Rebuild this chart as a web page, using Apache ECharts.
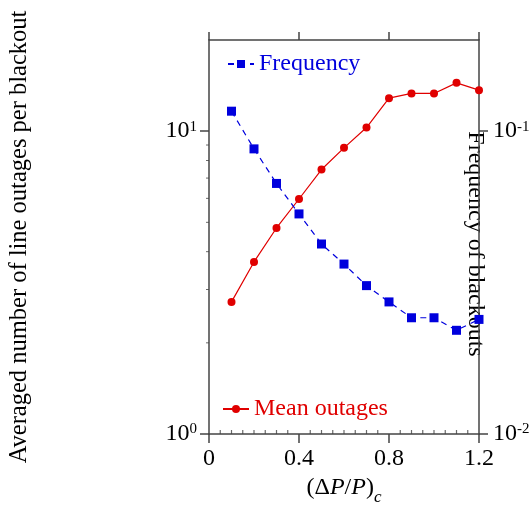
<!DOCTYPE html>
<html>
<head>
<meta charset="utf-8">
<script src="https://cdn.jsdelivr.net/npm/echarts@6/dist/echarts.min.js"></script>
<style>
  html, body { margin: 0; padding: 0; background: #fff; }
</style>
</head>
<body>
<div id="chart" style="width: 532px; height: 515px;"></div>
<script>
// data
const xValues = [0.1, 0.2, 0.3, 0.4, 0.5, 0.6, 0.7, 0.8, 0.9, 1.0, 1.1, 1.2]
const meanOutages = [2.73, 3.70, 4.79, 5.97, 7.47, 8.81, 10.28, 12.85, 13.32, 13.32, 14.44, 13.66]
const frequency = [0.1164, 0.0874, 0.0672, 0.0533, 0.0424, 0.0364, 0.0309, 0.0273, 0.0242, 0.0242, 0.0220, 0.0239]
const leftTicks = [1, 10]
const leftTickLabels = ['10{sup|0}', '10{sup|1}']
const rightTicks = [0.01, 0.1]
const rightTickLabels = ['10{sup|-2}', '10{sup|-1}']
const leftMinorTicks = [2, 3, 4, 5, 6, 7, 8, 9]
const bottomMinorTicks = [0.05, 0.1, 0.15, 0.2, 0.25, 0.3, 0.35, 0.45, 0.5, 0.55, 0.6, 0.65, 0.7, 0.75,
  0.85, 0.9, 0.95, 1.0, 1.05, 1.1, 1.15]

const font = 'Liberation Serif'
const axisColor = '#444'
const red = '#e00000'
const blue = '#0000dd'

const pair = (xs, ys) => xs.map((x, i) => [x, ys[i]])

const supRich = {
  b: { fontFamily: font, fontSize: 24, lineHeight: 24, verticalAlign: 'bottom', color: '#000' },
  sup: { fontFamily: font, fontSize: 15, lineHeight: 15, verticalAlign: 'top', padding: [0, 0, 14, 0], color: '#000' }
}

function logLabel(ticks, labels) {
  return function (v) {
    for (let i = 0; i < ticks.length; i++) {
      if (Math.abs(v - ticks[i]) < ticks[i] * 1e-6) {
        return labels[i].replace(/^10/, '{b|10}')
      }
    }
    return ''
  }
}

let myChart = echarts.init(document.getElementById('chart'))

const option = {
  animation: false,
  textStyle: { fontFamily: font },
  grid: { left: 209, right: 53, top: 40, bottom: 81, containLabel: false, outerBoundsMode: 'none' },
  legend: [
    {
      data: ['Frequency'],
      left: 227,
      top: 52,
      padding: 0,
      itemWidth: 26,
      itemHeight: 10,
      textStyle: { fontFamily: font, fontSize: 24, color: blue }
    },
    {
      data: ['Mean outages'],
      left: 222,
      top: 397,
      padding: 0,
      itemWidth: 26,
      itemHeight: 10,
      textStyle: { fontFamily: font, fontSize: 24, color: red }
    }
  ],
  xAxis: [
    {
      type: 'value',
      position: 'bottom',
      min: 0,
      max: 1.2,
      interval: 0.4,
      name: '{n|(Δ}{i|P}{n|/}{i|P}{n|)}{sub|c}',
      nameLocation: 'middle',
      nameGap: 42,
      nameMoveOverlap: false,
      nameTextStyle: {
        rich: {
          n: { fontFamily: font, fontSize: 24, lineHeight: 24, verticalAlign: 'top', color: '#000' },
          i: { fontFamily: font, fontSize: 24, lineHeight: 24, verticalAlign: 'top', fontStyle: 'italic', color: '#000' },
          sub: { fontFamily: font, fontSize: 17, lineHeight: 17, verticalAlign: 'top', fontStyle: 'italic', padding: [13, 0, 0, 0], color: '#000' }
        }
      },
      axisLine: { onZero: false, lineStyle: { color: axisColor, width: 1.5 } },
      axisTick: { length: 9, lineStyle: { color: axisColor, width: 1.5 } },
      splitLine: { show: false },
      axisLabel: { fontFamily: font, fontSize: 24, color: '#000', margin: 13 }
    },
    {
      type: 'value',
      position: 'top',
      min: 0,
      max: 1.2,
      interval: 0.4,
      axisLine: { onZero: false, lineStyle: { color: axisColor, width: 1.5 } },
      axisTick: { length: 8, lineStyle: { color: axisColor, width: 1.5 } },
      splitLine: { show: false },
      axisLabel: { show: false }
    }
  ],
  yAxis: [
    {
      type: 'log',
      logBase: 10,
      min: 1,
      max: 20,
      position: 'left',
      name: 'Averaged number of line outages per blackout',
      nameLocation: 'middle',
      nameGap: 177,
      nameMoveOverlap: false,
      nameTextStyle: { fontFamily: font, fontSize: 24.5, color: '#000' },
      axisLine: { show: true, onZero: false, lineStyle: { color: axisColor, width: 1.5 } },
      axisTick: { length: 9, customValues: leftTicks, lineStyle: { color: axisColor, width: 1.5 } },
      splitLine: { show: false },
      axisLabel: {
        customValues: leftTicks,
        margin: 12,
        formatter: logLabel(leftTicks, leftTickLabels),
        rich: supRich
      }
    },
    {
      type: 'log',
      logBase: 10,
      min: 0.01,
      max: 0.2,
      position: 'right',
      name: 'Frequency of blackouts',
      nameLocation: 'middle',
      nameRotate: -90,
      nameGap: -16,
      nameMoveOverlap: false,
      nameTextStyle: { fontFamily: font, fontSize: 24, color: '#000', padding: [0, 0, 0, 14] },
      axisLine: { show: true, onZero: false, lineStyle: { color: axisColor, width: 1.5 } },
      axisTick: { length: 9, customValues: rightTicks, lineStyle: { color: axisColor, width: 1.5 } },
      splitLine: { show: false },
      axisLabel: {
        customValues: rightTicks,
        margin: 14,
        formatter: logLabel(rightTicks, rightTickLabels),
        rich: supRich
      }
    }
  ],
  series: [
    {
      name: 'Mean outages',
      type: 'line',
      xAxisIndex: 0,
      yAxisIndex: 0,
      data: pair(xValues, meanOutages),
      symbol: 'circle',
      symbolSize: 8,
      lineStyle: { color: red, width: 1.2 },
      itemStyle: { color: red },
      z: 3
    },
    {
      name: 'Frequency',
      type: 'line',
      xAxisIndex: 0,
      yAxisIndex: 1,
      data: pair(xValues, frequency),
      symbol: 'rect',
      symbolSize: 9,
      lineStyle: { color: blue, width: 1.2, type: [6, 5] },
      itemStyle: { color: blue },
      z: 4
    },
    {
      // minor ticks of the left log axis (outward)
      name: 'minorY',
      type: 'scatter',
      xAxisIndex: 0,
      yAxisIndex: 0,
      data: leftMinorTicks.map(v => [0, v]),
      symbol: 'rect',
      symbolSize: [3, 1],
      symbolOffset: [-1.5, 0],
      itemStyle: { color: axisColor },
      clip: false,
      silent: true,
      z: 1
    },
    {
      // minor ticks of the bottom axis (inward)
      name: 'minorX',
      type: 'scatter',
      xAxisIndex: 0,
      yAxisIndex: 0,
      data: bottomMinorTicks.map(v => [v, 1]),
      symbol: 'rect',
      symbolSize: [1.2, 4],
      symbolOffset: [0, -2],
      itemStyle: { color: axisColor },
      clip: false,
      silent: true,
      z: 1
    }
  ]
}

myChart.setOption(option)
</script>
</body>
</html>
